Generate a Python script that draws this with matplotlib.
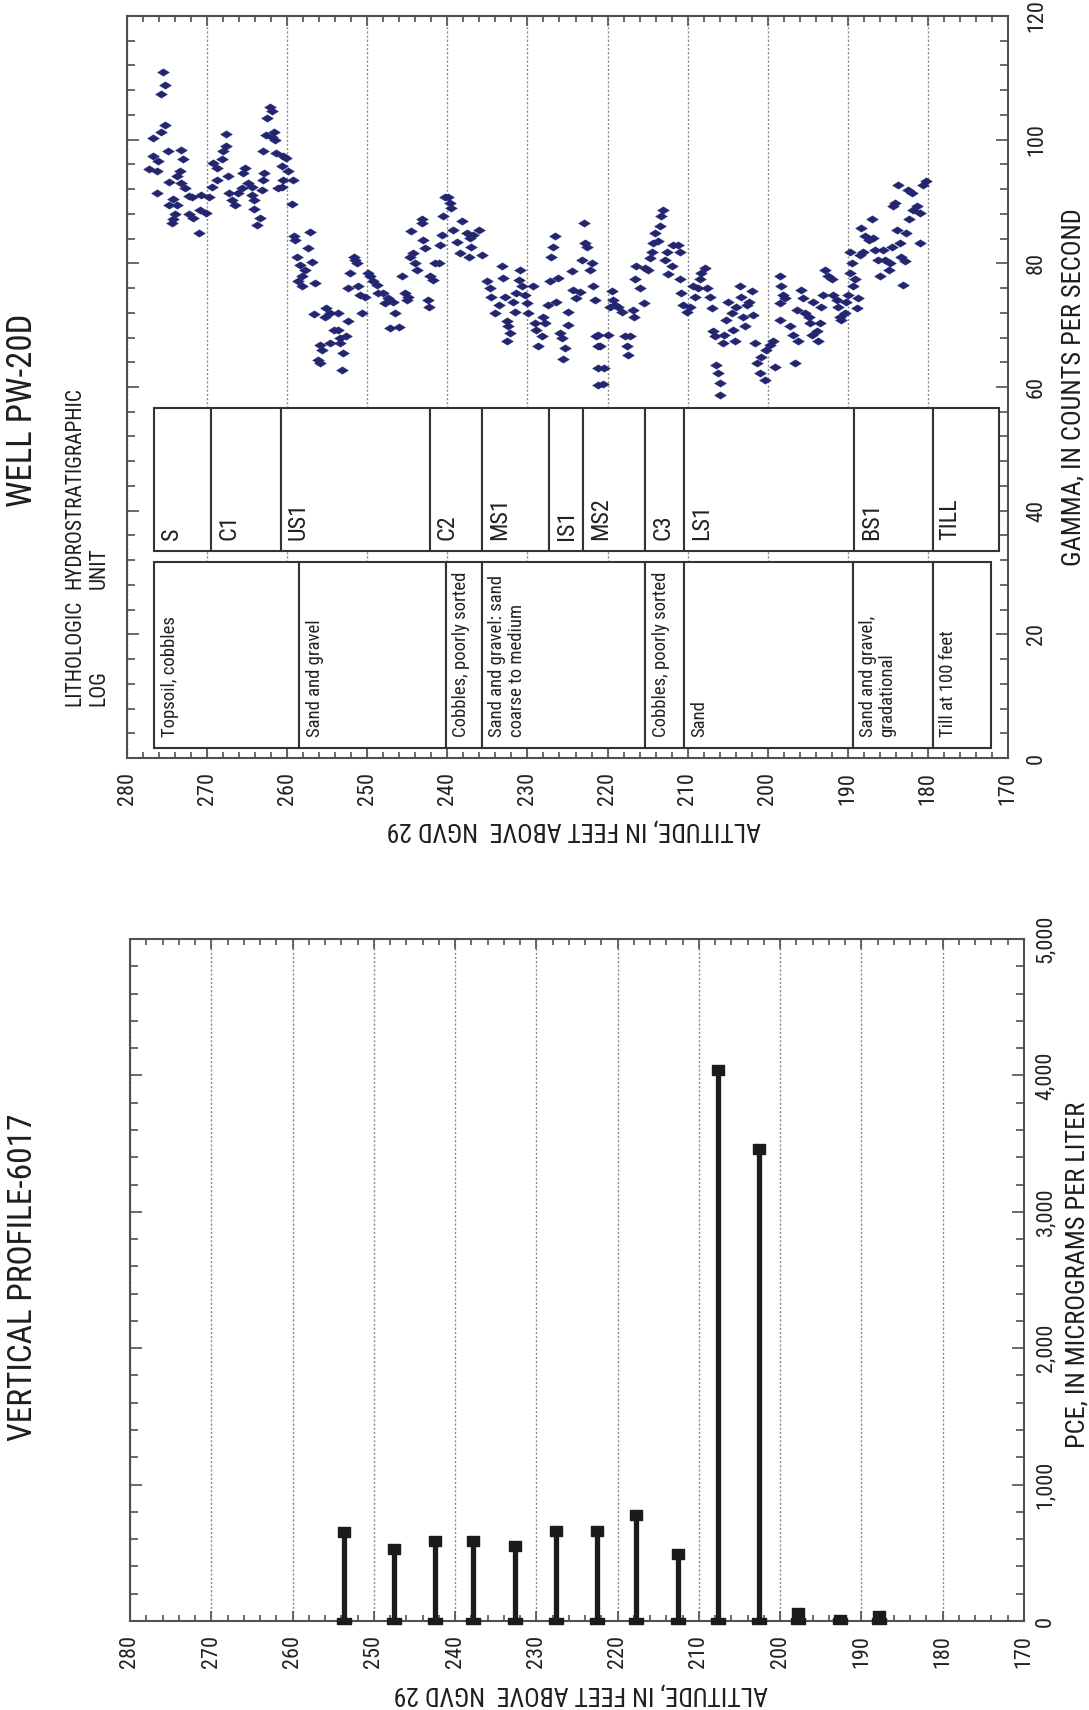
import matplotlib
matplotlib.use('Agg')
import matplotlib.pyplot as plt
from matplotlib.patches import Rectangle
from matplotlib.ticker import MultipleLocator, FuncFormatter

plt.rcParams['font.family'] = ['Liberation Sans Narrow', 'Roboto Condensed', 'Noto Sans Condensed',
                               'Open Sans Condensed', 'DejaVu Sans Condensed', 'DejaVu Sans']
plt.rcParams['font.stretch'] = 'condensed'

# gamma log, well PW-20D (altitude ft, counts per second)
gamma_alt = [
    275.5, 275.3, 275.8, 275.2, 275.8, 276.7, 274.9, 273.3, 273.0, 276.7, 276.1, 277.3, 276.3, 273.4, 273.8,
    274.8, 273.2, 272.8, 276.2, 272.3, 271.9, 270.7, 269.8, 274.2, 274.7, 273.8, 274.0, 272.3, 271.7, 270.9,
    270.1, 274.4, 274.2, 271.0, 269.4, 268.8, 269.2, 268.8, 268.2, 268.0, 267.7, 267.7, 267.4, 267.3, 266.9,
    266.5, 266.1, 265.7, 265.5, 265.3, 264.9, 264.4, 264.4, 264.2, 264.1, 263.4, 263.8, 263.1, 263.0, 262.9,
    263.0, 262.1, 261.9, 262.5, 262.6, 261.9, 261.6, 261.5, 261.4, 260.5, 260.1, 260.7, 259.9, 261.1, 260.7,
    260.5, 259.3, 259.4, 259.2, 259.0, 257.2, 257.4, 258.8, 258.4, 256.9, 257.8, 258.2, 258.7, 258.2, 256.5,
    256.6, 255.2, 255.3, 254.7, 253.6, 255.9, 255.7, 256.1, 255.9, 254.6, 253.4, 252.7, 253.4, 253.0, 253.1,
    252.4, 254.2, 253.6, 251.7, 251.5, 251.3, 252.2, 252.4, 251.1, 250.3, 250.9, 250.7, 249.9, 249.6, 249.3,
    248.8, 248.6, 248.0, 247.8, 247.4, 246.8, 246.5, 247.2, 246.1, 245.7, 245.3, 245.1, 244.9, 244.5, 244.7,
    244.3, 244.0, 243.8, 243.2, 243.2, 243.0, 242.8, 242.2, 241.8, 241.6, 241.1, 240.7, 240.9, 240.5, 240.3,
    239.9, 239.7, 239.5, 239.3, 238.8, 238.4, 238.2, 237.6, 237.2, 237.0, 236.8, 236.1, 235.7, 237.3, 242.4,
    242.3, 235.1, 234.7, 234.5, 233.6, 234.1, 233.2, 233.0, 232.8, 232.6, 232.4, 232.2, 232.6, 231.8, 231.6,
    231.4, 231.1, 230.9, 230.7, 230.3, 230.1, 229.9, 229.3, 229.1, 228.9, 228.7, 228.2, 228.0, 227.8, 227.4,
    227.2, 227.0, 226.8, 226.6, 226.4, 226.2, 225.9, 225.7, 225.3, 225.5, 224.9, 224.9, 224.5, 224.3, 223.9,
    223.4, 223.2, 223.0, 222.8, 222.6, 222.2, 222.0, 221.8, 221.6, 221.4, 221.2, 221.2, 221.2,
    221.2, 221.0, 220.5, 220.6, 219.9, 219.7, 219.5, 219.3, 219.1, 218.7, 218.2, 217.8, 217.6, 217.4, 217.2,
    216.8, 216.7, 216.6, 216.4, 216.0, 215.5, 215.3, 214.9, 214.7, 214.5, 214.3, 214.1, 213.7, 213.5, 213.3,
    213.1, 212.8, 212.6, 212.4, 212.0, 211.8, 211.2, 211.0, 211.0, 210.8, 210.6, 210.1, 209.7, 209.3, 209.1,
    208.7, 208.5, 208.3, 207.8, 207.6, 207.2, 207.0, 206.8, 206.6, 206.4, 206.2, 205.9, 206.0, 205.6, 205.4,
    205.2, 204.9, 204.5, 204.3, 204.1, 203.9, 203.5, 203.3, 203.1, 202.9, 202.6, 202.4, 202.0, 201.8, 201.6,
    201.4, 201.0, 200.4, 200.8, 200.2, 199.7, 199.3, 199.1, 198.5, 198.5, 198.3, 198.1, 198.5, 197.9, 197.2,
    196.8, 196.6, 196.4, 196.2, 195.8, 195.6, 195.4, 194.9, 194.7, 194.5, 194.3, 193.9, 193.7, 193.5, 193.3,
    193.1, 192.9, 192.5, 192.0, 191.8, 191.4, 191.2, 191.0, 190.8, 190.4, 190.2, 190.0, 189.7, 189.5, 189.3,
    189.1, 188.9, 188.7, 189.7, 188.5, 188.3, 188.1, 187.9, 187.4, 187.0, 186.8, 186.6, 186.2, 186.0, 185.6,
    185.4, 184.9, 184.7, 184.5, 184.3, 184.1, 183.7, 183.9, 183.5, 183.3, 183.1, 182.9, 182.7, 182.5, 182.3,
    182.0, 181.8, 181.4, 181.0, 181.0, 180.6, 180.2,
]
gamma_cps = [
    110.9, 108.9, 107.4, 102.4, 101.3, 100.3, 98.1, 98.3, 96.8, 97.3, 96.5, 95.3, 95.0, 95.0, 94.1,
    93.1, 93.0, 92.2, 91.4, 90.9, 90.8, 91.1, 90.8, 90.4, 89.4, 89.4, 88.0, 87.9, 87.3, 88.7,
    88.1, 86.5, 87.1, 84.9, 92.4, 93.5, 96.2, 95.4, 96.8, 98.1, 98.9, 100.9, 94.2, 91.4, 90.3,
    89.5, 91.4, 92.2, 94.6, 95.4, 93.0, 92.4, 91.1, 90.3, 88.8, 87.3, 86.2, 91.8, 93.5, 94.6,
    98.1, 105.3, 104.6, 103.5, 100.8, 100.5, 101.3, 100.0, 97.8, 97.3, 97.0, 95.7, 94.9, 92.2, 92.4,
    93.5, 93.4, 89.6, 84.4, 83.8, 85.0, 82.5, 81.0, 79.8, 80.2, 79.0, 77.9, 77.2, 76.3, 76.8,
    71.8, 72.8, 71.4, 72.0, 72.0, 66.8, 66.0, 64.4, 63.9, 67.1, 67.9, 68.2, 67.1, 65.5, 62.8,
    70.6, 69.2, 69.2, 81.1, 80.6, 80.0, 78.4, 76.0, 76.3, 74.6, 74.9, 71.9, 78.4, 77.9, 77.1,
    76.5, 75.2, 75.2, 73.6, 74.4, 73.8, 71.9, 69.5, 69.7, 77.9, 75.2, 74.1, 74.6, 85.2, 81.1,
    81.6, 80.0, 79.0, 87.1, 86.5, 83.8, 82.5, 77.9, 77.3, 80.0, 80.0, 84.6, 83.0, 87.6, 90.8,
    90.8, 89.7, 88.9, 85.4, 83.5, 81.6, 86.8, 84.9, 84.1, 82.7, 84.6, 85.4, 81.4, 81.1, 74.1,
    72.9, 77.1, 76.0, 74.6, 73.3, 72.0, 79.5, 77.6, 74.6, 70.6, 69.8, 68.7, 67.5, 73.8, 72.2,
    75.2, 77.3, 79.0, 76.3, 74.9, 73.6, 71.9, 76.3, 70.3, 69.2, 66.6, 68.2, 71.4, 70.3, 73.3,
    77.1, 81.1, 82.7, 84.4, 73.8, 77.6, 68.7, 67.9, 66.3, 64.6, 72.2, 70.0, 78.7, 75.7, 74.4,
    75.4, 80.6, 86.5, 83.3, 82.7, 79.0, 80.0, 76.3, 74.1, 68.2, 66.6, 63.0, 60.3,
    68.4, 66.6, 63.1, 60.5, 68.4, 73.0, 75.5, 74.1, 73.3, 73.0, 72.2, 68.2, 66.6, 65.2, 68.3,
    72.5, 71.4, 77.4, 79.5, 76.0, 73.6, 79.2, 79.0, 80.9, 81.9, 83.3, 84.9, 83.6, 86.0, 87.6,
    88.7, 80.6, 81.9, 78.2, 79.5, 83.0, 83.0, 81.9, 77.4, 75.2, 73.3, 72.2, 73.0, 76.3, 74.6,
    76.0, 77.4, 78.4, 79.2, 76.0, 74.6, 72.8, 69.0, 68.2, 63.6, 62.2, 58.7, 60.6, 67.1, 68.4,
    70.9, 73.8, 71.9, 69.2, 67.4, 73.0, 76.3, 74.6, 71.4, 69.8, 73.3, 73.8, 75.5, 71.7, 67.1,
    63.9, 62.2, 61.2, 64.9, 66.0, 66.8, 67.4, 63.3, 77.9, 73.6, 76.3, 74.9, 70.9, 74.4, 69.8,
    68.4, 63.9, 72.5, 67.4, 75.7, 74.4, 71.9, 71.4, 70.3, 68.4, 73.8, 69.0, 67.4, 70.3, 73.0,
    74.9, 79.0, 77.9, 77.4, 74.9, 74.1, 73.0, 71.4, 70.9, 71.9, 73.8, 74.9, 78.4, 80.0, 76.3,
    77.4, 72.8, 74.4, 81.9, 81.4, 85.7, 81.9, 84.4, 83.8, 87.1, 84.1, 82.2, 80.6, 77.9, 82.2,
    80.6, 79.0, 80.0, 82.7, 89.2, 89.8, 92.7, 85.4, 83.3, 81.1, 76.5, 80.3, 84.9, 91.9, 87.1,
    91.4, 88.7, 89.2, 88.1, 83.3, 92.7, 93.3,
]

# hydrostratigraphic units: name and top altitude, last unit ends at hydro_base
hydro_units = ['S', 'C1', 'US1', 'C2', 'MS1', 'IS1', 'MS2', 'C3', 'LS1', 'BS1', 'TILL']
hydro_tops = [276.6, 269.5, 260.8, 242.2, 235.7, 227.3, 223.1, 215.3, 210.5, 189.2, 179.4]
hydro_base = 171.1

# lithologic log
litho_desc = ['Topsoil, cobbles', 'Sand and gravel', 'Cobbles, poorly sorted',
              'Sand and gravel: sand\ncoarse to medium', 'Cobbles, poorly sorted', 'Sand',
              'Sand and gravel,\ngradational', 'Till at 100 feet']
litho_tops = [276.6, 258.5, 240.2, 235.7, 215.3, 210.5, 189.4, 179.4]
litho_base = 172.1

# PCE vertical profile 6017
pce_alt = [253.7, 247.5, 242.5, 237.8, 232.6, 227.6, 222.6, 217.7, 212.6, 207.6, 202.6, 197.8, 192.6, 187.8]
pce_ugl = [650, 530, 590, 590, 550, 660, 660, 780, 490, 4040, 3460, 60, 5, 35]

W, H = 1089, 1710
fig = plt.figure(figsize=(W / 100, H / 100), dpi=100)


def px_box(l, t, r, b):
    return [l / W, 1 - b / H, (r - l) / W, (b - t) / H]


def fxy(x, y):
    return x / W, 1 - y / H


ax1 = fig.add_axes(px_box(127, 16, 1008, 758))
ax2 = fig.add_axes(px_box(130, 939, 1024, 1621))

spine_c = '#505050'
for ax in (ax1, ax2):
    ax.set_xlim(280, 170)
    ax.xaxis.set_major_locator(MultipleLocator(10))
    ax.xaxis.set_minor_locator(MultipleLocator(2))
    ax.grid(axis='x', which='major', color='#8a8a8a', lw=1.0, ls=(0, (1.5, 1.5)))
    ax.set_axisbelow(True)
    for s in ax.spines.values():
        s.set_color(spine_c)
        s.set_linewidth(1.5)
    ax.tick_params(axis='x', which='both', direction='in', top=True, bottom=True,
                   color=spine_c, width=1.2, labelrotation=90, labelsize=16, pad=10, labelcolor='#222222')
    ax.tick_params(axis='x', which='major', length=7)
    ax.tick_params(axis='x', which='minor', length=4.3)
    ax.tick_params(axis='y', which='both', direction='in', left=True, right=True,
                   labelleft=False, labelright=True, color=spine_c, width=1.2,
                   labelrotation=90, labelsize=16, labelcolor='#222222')
    ax.tick_params(axis='y', which='major', length=8.6)
    ax.tick_params(axis='y', which='minor', length=5.8)

# top panel: gamma log + logs
ax1.set_ylim(0, 120)
ax1.yaxis.set_major_locator(MultipleLocator(20))
ax1.yaxis.set_minor_locator(MultipleLocator(4))
ax1.tick_params(axis='y', pad=13)

diamond = [(-1, 0), (0, 0.63), (1, 0), (0, -0.63), (-1, 0)]
ax1.plot(gamma_alt, gamma_cps, ls='none', marker=diamond, ms=8.5,
         color='#22256f', mec='#22256f', mew=0.3, zorder=3)

hy0, hy1 = 33.5, 56.6
ends = hydro_tops[1:] + [hydro_base]
for name, top, bot in zip(hydro_units, hydro_tops, ends):
    ax1.add_patch(Rectangle((bot, hy0), top - bot, hy1 - hy0, facecolor='white',
                            edgecolor='#333333', lw=1.5, zorder=2))
    ax1.text(top - 0.75, 35.3, name, rotation=90, ha='left', va='bottom',
             fontsize=17.5, color='#222222', zorder=4)

li0, li1 = 1.6, 31.7
ends = litho_tops[1:] + [litho_base]
for desc, top, bot in zip(litho_desc, litho_tops, ends):
    ax1.add_patch(Rectangle((bot, li0), top - bot, li1 - li0, facecolor='white',
                            edgecolor='#333333', lw=1.5, zorder=2))
    ax1.text(top - 0.8, 3.4, desc, rotation=90, ha='left', va='bottom', multialignment='left',
             fontsize=13.5, color='#222222', linespacing=1.1, zorder=4)

# bottom panel: PCE profile
ax2.set_ylim(0, 5000)
ax2.yaxis.set_major_locator(MultipleLocator(1000))
ax2.yaxis.set_minor_locator(MultipleLocator(200))
ax2.yaxis.set_major_formatter(FuncFormatter(lambda v, p: f'{int(v):,}'))
ax2.tick_params(axis='y', pad=8)

stem_c = '#1b1b1b'
ax2.vlines(pce_alt, 0, pce_ugl, color=stem_c, lw=3.8, zorder=3)
cap_top = [(-1, -0.8), (1, -0.8), (1, 0.8), (-1, 0.8), (-1, -0.8)]
cap_base = [(-1, -0.42), (1, -0.42), (1, 0.42), (-1, 0.42), (-1, -0.42)]
ax2.plot(pce_alt, pce_ugl, ls='none', marker=cap_top, ms=8.6, color=stem_c, zorder=4)
ax2.plot(pce_alt, [0] * len(pce_alt), ls='none', marker=cap_base, ms=10, color=stem_c,
         zorder=4, clip_on=False)

for ax in (ax1, ax2):
    plt.setp(ax.get_yticklabels(), va='center')

# titles and axis labels
txt_c = '#1e1e1e'
fig.text(*fxy(23, 410), 'WELL PW-20D', rotation=90, ha='center', va='center', fontsize=25, color=txt_c)
fig.text(*fxy(23, 1277), 'VERTICAL PROFILE-6017', rotation=90, ha='center', va='center', fontsize=24, color=txt_c)
fig.text(*fxy(87, 706), 'LITHOLOGIC\nLOG', rotation=90, ha='center', va='bottom',
         multialignment='left', fontsize=15.5, linespacing=1.2, color=txt_c)
fig.text(*fxy(87, 589), 'HYDROSTRATIGRAPHIC\nUNIT', rotation=90, ha='center', va='bottom',
         multialignment='left', fontsize=15.5, linespacing=1.2, color=txt_c)
fig.text(*fxy(1073, 387), 'GAMMA, IN COUNTS PER SECOND', rotation=90, ha='center', va='center',
         fontsize=19, color=txt_c)
fig.text(*fxy(1078, 1275), 'PCE, IN MICROGRAMS PER LITER', rotation=90, ha='center', va='center',
         fontsize=19, color=txt_c)
fig.text(*fxy(574, 829), 'ALTITUDE, IN FEET ABOVE  NGVD 29', rotation=180, ha='center', va='center',
         fontsize=18.5, color=txt_c)
fig.text(*fxy(581, 1693), 'ALTITUDE, IN FEET ABOVE  NGVD 29', rotation=180, ha='center', va='center',
         fontsize=18.5, color=txt_c)

fig.savefig('out.png', dpi=100)
